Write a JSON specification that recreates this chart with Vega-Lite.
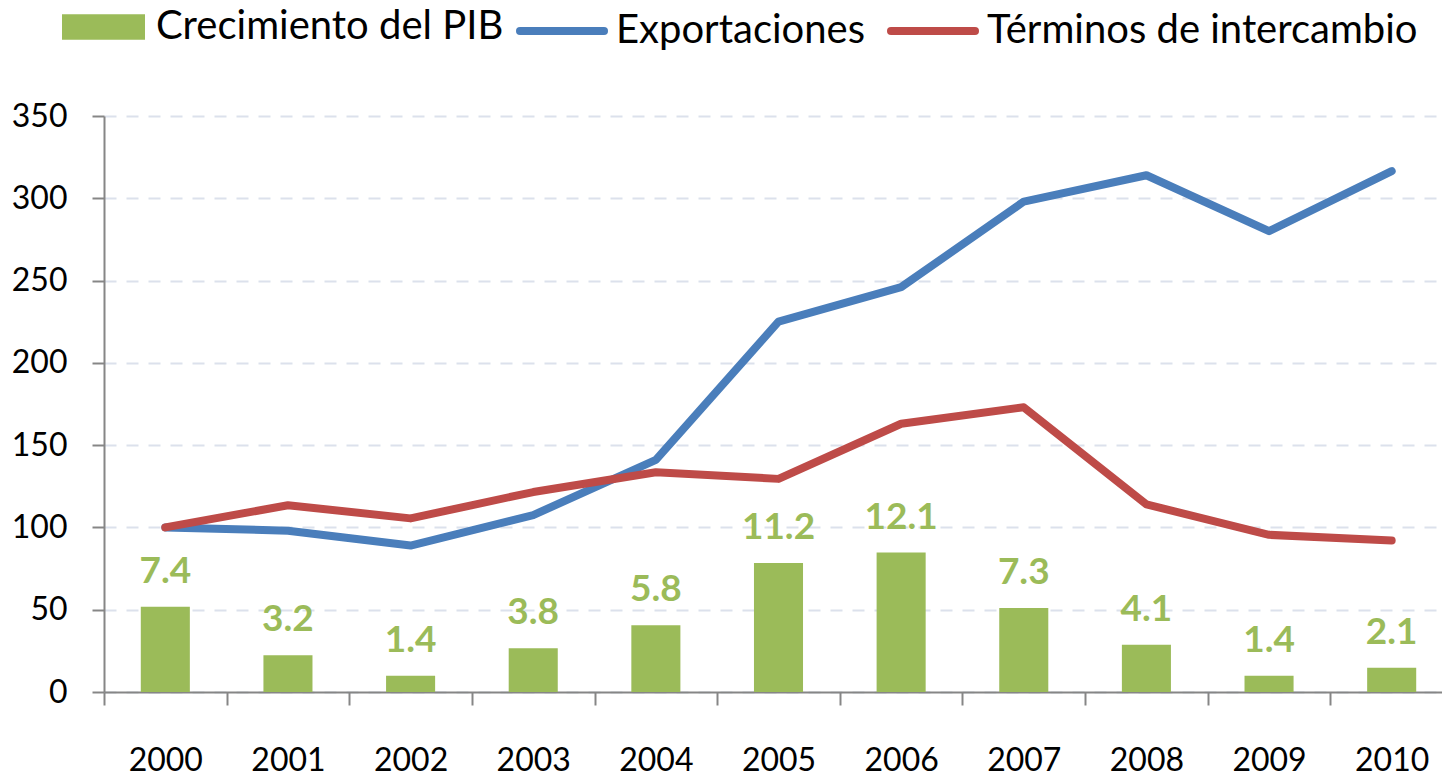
{
  "$schema": "https://vega.github.io/schema/vega-lite/v6.json",
  "autosize": {"type": "none"},
  "padding": {"left": 104, "top": 116, "right": 0, "bottom": 80},
  "width": 1349,
  "height": 576,
  "background": "white",
  "data": {
    "values": [
      {"anio": "2000", "pib": 7.4, "Exportaciones": 100, "Términos de intercambio": 100},
      {"anio": "2001", "pib": 3.2, "Exportaciones": 98, "Términos de intercambio": 113.5},
      {"anio": "2002", "pib": 1.4, "Exportaciones": 89, "Términos de intercambio": 105.5},
      {"anio": "2003", "pib": 3.8, "Exportaciones": 107.5, "Términos de intercambio": 121.5},
      {"anio": "2004", "pib": 5.8, "Exportaciones": 141, "Términos de intercambio": 133.5},
      {"anio": "2005", "pib": 11.2, "Exportaciones": 225, "Términos de intercambio": 129.5},
      {"anio": "2006", "pib": 12.1, "Exportaciones": 246, "Términos de intercambio": 163},
      {"anio": "2007", "pib": 7.3, "Exportaciones": 298, "Términos de intercambio": 173},
      {"anio": "2008", "pib": 4.1, "Exportaciones": 314, "Términos de intercambio": 114},
      {"anio": "2009", "pib": 1.4, "Exportaciones": 280, "Términos de intercambio": 95.5},
      {"anio": "2010", "pib": 2.1, "Exportaciones": 316.5, "Términos de intercambio": 92}
    ]
  },
  "encoding": {
    "x": {
      "field": "anio",
      "type": "ordinal",
      "scale": {"paddingInner": 0, "paddingOuter": 0},
      "axis": {
        "title": null,
        "labelAngle": 0,
        "tickBand": "extent",
        "tickSize": 13,
        "tickWidth": 2,
        "tickColor": "#868686",
        "domainColor": "#868686",
        "domainWidth": 2,
        "labelPadding": 40,
        "labelFont": "Lato",
        "labelFontSize": 32,
        "labelColor": "#000000",
        "grid": false
      }
    }
  },
  "layer": [
    {
      "encoding": {
        "y": {
          "field": "pib",
          "type": "quantitative",
          "scale": {"domain": [0, 50], "nice": false, "zero": true},
          "axis": null
        }
      },
      "layer": [
        {
          "mark": {"type": "bar", "width": {"band": 0.4}},
          "encoding": {
            "fill": {
              "datum": "Crecimiento del PIB",
              "type": "nominal",
              "scale": {"domain": ["Crecimiento del PIB"], "range": ["#9BBB59"]},
              "legend": {
                "title": null,
                "orient": "none",
                "direction": "horizontal",
                "legendX": -42,
                "legendY": -130.5,
                "padding": 0,
                "symbolType": "M-1,-0.31H1V0.31H-1Z",
                "symbolSize": 6889,
                "symbolStrokeWidth": 0,
                "labelOffset": 11,
                "labelFont": "Lato",
                "labelFontSize": 40,
                "labelColor": "#000000",
                "labelLimit": 600
              }
            }
          }
        },
        {
          "mark": {
            "type": "text",
            "font": "Lato",
            "fontWeight": "bold",
            "fontSize": 37,
            "color": "#9BBB59",
            "baseline": "alphabetic",
            "align": "center",
            "dy": -24
          },
          "encoding": {
            "text": {"field": "pib", "type": "quantitative", "format": ".1f"}
          }
        }
      ]
    },
    {
      "transform": [
        {"fold": ["Exportaciones", "Términos de intercambio"], "as": ["serie", "valor"]}
      ],
      "mark": {"type": "line", "strokeWidth": 8, "strokeCap": "round", "strokeJoin": "round"},
      "encoding": {
        "y": {
          "field": "valor",
          "type": "quantitative",
          "scale": {"domain": [0, 350], "nice": false},
          "axis": {
            "title": null,
            "values": [0, 50, 100, 150, 200, 250, 300, 350],
            "grid": true,
            "gridColor": "#DCE1EC",
            "gridWidth": 2,
            "gridDash": [12, 10],
            "domainColor": "#868686",
            "domainWidth": 2,
            "tickColor": "#868686",
            "tickWidth": 2,
            "tickSize": 12,
            "labelPadding": 25,
            "labelFont": "Lato",
            "labelFontSize": 32,
            "labelColor": "#000000"
          }
        },
        "stroke": {
          "field": "serie",
          "type": "nominal",
          "scale": {
            "domain": ["Exportaciones", "Términos de intercambio"],
            "range": ["#4A7EBB", "#BE4B48"]
          },
          "legend": {
            "title": null,
            "orient": "none",
            "direction": "horizontal",
            "legendX": 391,
            "legendY": -131,
            "padding": 0,
            "symbolType": "stroke",
            "symbolSize": 7056,
            "symbolStrokeWidth": 8,
            "symbolOffset": 21,
            "labelOffset": 8,
            "columnPadding": -5,
            "labelFont": "Lato",
            "labelFontSize": 40,
            "labelColor": "#000000",
            "labelLimit": 600,
            "encode": {
              "symbols": {
                "update": {
                  "strokeCap": {"value": "round"},
                  "opacity": {"value": 1}
                }
              }
            }
          }
        }
      }
    }
  ],
  "resolve": {"scale": {"y": "independent"}},
  "config": {
    "view": {"stroke": null}
  }
}
